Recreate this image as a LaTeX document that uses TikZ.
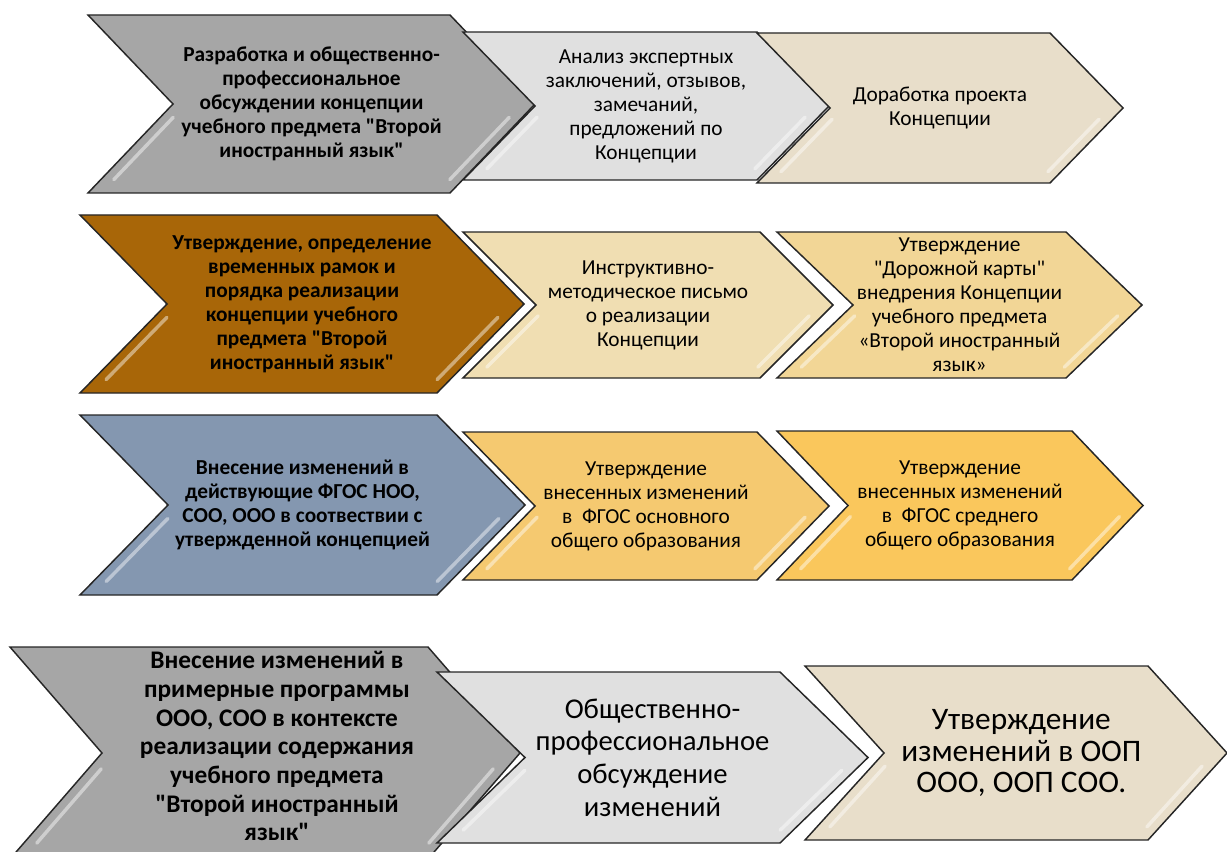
\documentclass[tikz,border=0pt]{standalone}
\usepackage{fontspec}
\setmainfont{Carlito}[Ligatures=TeXOff]
\usetikzlibrary{calc}

\definecolor{stepgray}{RGB}{166,166,166}
\definecolor{steplight}{RGB}{224,224,224}
\definecolor{stepsand}{RGB}{232,222,202}
\definecolor{stepbrown}{RGB}{168,102,8}
\definecolor{steppale}{RGB}{240,222,178}
\definecolor{stepwheat}{RGB}{242,214,150}
\definecolor{stepslate}{RGB}{132,151,176}
\definecolor{stepamber}{RGB}{245,201,112}
\definecolor{stepgold}{RGB}{250,199,92}

\begin{document}
\begin{tikzpicture}[x=0.75pt,y=-0.75pt,line join=miter,
    chev/.style={draw=black!85,line width=1.1pt},
    glint/.style={white,opacity=0.45,line width=2.6pt,line cap=round},
    txt/.style={align=center,font=\fontsize{16}{18}\selectfont},
    txtb/.style={align=center,font=\fontsize{16}{18}\selectfont\bfseries},
    big/.style={align=center,font=\fontsize{21.5}{24.5}\selectfont},
    bigger/.style={align=center,font=\fontsize{23.5}{23.5}\selectfont},
    bigb/.style={align=center,font=\fontsize{19}{21.5}\selectfont\bfseries}]
    \useasboundingbox (0,0) rectangle (1227,852);
    \clip (0,0) rectangle (1227,852);

    % name / left / top / top-right / bottom / depth / fill
    \foreach \nm/\xl/\yt/\xr/\yb/\d/\col in {
        a/88/15/450/193/85/stepgray, b/463/32/757/180/72/steplight, c/757/33/1050/183/73/stepsand,
        d/80/215/437/393/87/stepbrown, e/463/232/760/378/73/steppale, f/777/232/1066/378/76/stepwheat,
        g/80/415/437/595/88/stepslate, h/463/432/757/580/72/stepamber, i/777/431/1072/580/71/stepgold,
        j/10/647/428/859/92/stepgray, k/437/672/780/843/88/steplight, l/805/666/1148/840/79/stepsand} {
        \pgfmathsetmacro\ym{(\yt+\yb)/2}
        \draw[chev,fill=\col] (\xl,\yt) -- (\xr,\yt) -- (\xr+\d,\ym) -- (\xr,\yb)
            -- (\xl,\yb) -- (\xl+\d,\ym) -- cycle;
        \draw[glint] ($(\xr+\d,\ym)!0.15!(\xr,\yb)+(-13,0)$) -- ($(\xr+\d,\ym)!0.85!(\xr,\yb)+(-13,0)$);
        \draw[glint] ($(\xl+\d,\ym)!0.15!(\xl,\yb)+(13,0)$) -- ($(\xl+\d,\ym)!0.85!(\xl,\yb)+(13,0)$);
        \coordinate (\nm) at ({(\xl+\xr+\d)/2},\ym);
    }

    \node[txtb] (a-txt) at (a) {Разработка и общественно-\\профессиональное\\обсуждении концепции\\учебного предмета "Второй\\иностранный язык"};
    \node[txt] (b-txt) at (b) {Анализ экспертных\\заключений, отзывов,\\замечаний,\\предложений по\\Концепции};
    \node[txt] (c-txt) at (c) {Доработка проекта\\Концепции};

    \node[txtb] (d-txt) at (d) {Утверждение, определение\\временных рамок и\\порядка реализации\\концепции учебного\\предмета "Второй\\иностранный язык"};
    \node[txt] (e-txt) at (e) {Инструктивно-\\методическое письмо\\о реализации\\Концепции};
    \node[txt] (f-txt) at (f) {Утверждение\\"Дорожной карты"\\внедрения Концепции\\учебного предмета\\«Второй иностранный\\язык»};

    \node[txtb] (g-txt) at (g) {Внесение изменений в\\действующие ФГОС НОО,\\СОО, ООО в соотвествии с\\утвержденной концепцией};
    \node[txt] (h-txt) at (h) {Утверждение\\внесенных изменений\\в~~ФГОС основного\\общего образования};
    \node[txt] (i-txt) at (i) {Утверждение\\внесенных изменений\\в~~ФГОС среднего\\общего образования};

    \node[bigb,xshift=9pt,yshift=5pt] (j-txt) at (j) {Внесение изменений в\\примерные программы\\ООО, СОО в контексте\\реализации содержания\\учебного предмета\\"Второй иностранный\\язык"};
    \node[big] (k-txt) at (k) {Общественно-\\профессиональное\\обсуждение\\изменений};
    \node[bigger,xshift=4pt] (l-txt) at (l) {Утверждение\\изменений в ООП\\ООО, ООП СОО.};
\end{tikzpicture}
\end{document}
